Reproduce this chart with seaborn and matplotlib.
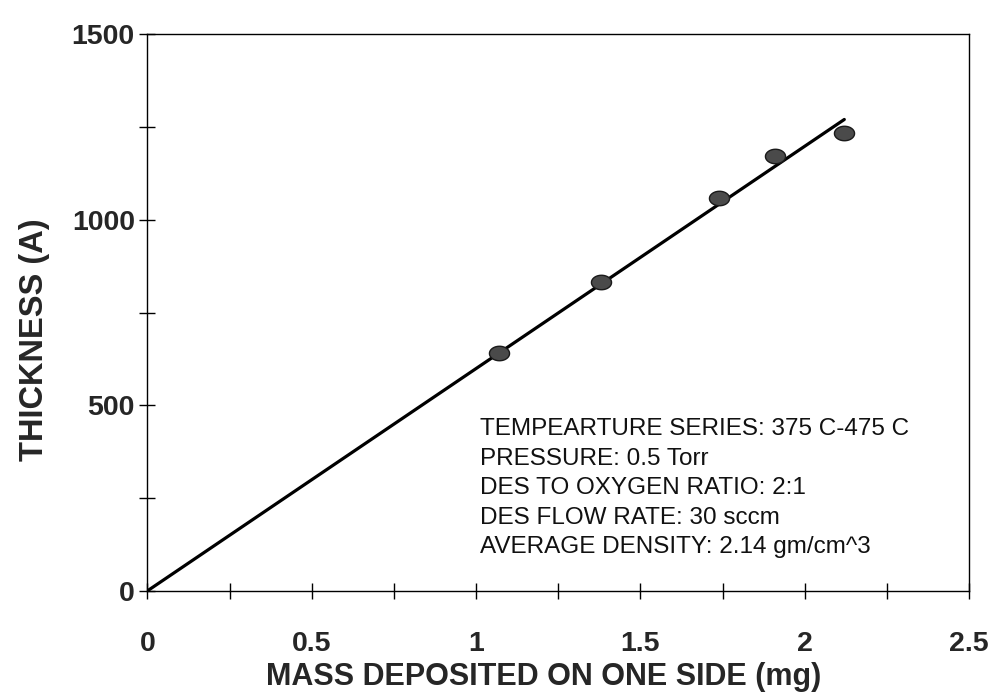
import numpy as np
import pandas as pd
import matplotlib
matplotlib.use("Agg")
import matplotlib.pyplot as plt
from matplotlib.path import Path
from matplotlib.ticker import MultipleLocator
import seaborn as sns

# measured points
mass_mg = [1.07, 1.38, 1.74, 1.91, 2.12]
thickness_a = [640, 831, 1059, 1171, 1234]

# fitted line endpoints
fit_mass = [0.0, 2.12]
fit_thickness = [0.0, 1270.0]

notes = [
    "TEMPEARTURE SERIES: 375 C-475 C",
    "PRESSURE: 0.5 Torr",
    "DES TO OXYGEN RATIO: 2:1",
    "DES FLOW RATE: 30 sccm",
    "AVERAGE DENSITY: 2.14 gm/cm^3",
]

sns.set_style("white")
plt.rcParams['font.family'] = ['Liberation Sans', 'DejaVu Sans']

fig = plt.figure(figsize=(9.89, 6.96), dpi=100)
ax = fig.add_axes([0.149, 0.151, 0.831, 0.8])

pts = pd.DataFrame({"mass": mass_mg, "thickness": thickness_a})
fit = pd.DataFrame({"mass": fit_mass, "thickness": fit_thickness})

sns.lineplot(data=fit, x="mass", y="thickness", color="black", lw=2.3, ax=ax)

# slightly flattened dot, like the scanned markers
t = np.linspace(0, 2 * np.pi, 40)
ellipse = Path(np.column_stack([np.cos(t), 0.72 * np.sin(t)]), closed=True)
sns.scatterplot(data=pts, x="mass", y="thickness", marker=ellipse, s=210,
                color="#4a4a4a", edgecolor="#1a1a1a", linewidth=1.0, ax=ax, zorder=3)

ax.set_xlim(0, 2.5)
ax.set_ylim(0, 1500)
ax.xaxis.set_major_locator(MultipleLocator(0.5))
ax.xaxis.set_minor_locator(MultipleLocator(0.25))
ax.yaxis.set_major_locator(MultipleLocator(500))
ax.yaxis.set_minor_locator(MultipleLocator(250))
ax.set_xticks([0, 0.5, 1, 1.5, 2, 2.5])
ax.set_xticklabels(["0", "0.5", "1", "1.5", "2", "2.5"])

ax.tick_params(which="both", bottom=True, left=True, top=False, right=False,
               direction="inout", length=12, width=1.0, color="black")
ax.tick_params(axis="x", which="major", pad=23)
ax.tick_params(axis="y", which="major", pad=3)
for lab in ax.get_xticklabels() + ax.get_yticklabels():
    lab.set_fontsize(20.5)
    lab.set_fontweight("bold")

for sp in ax.spines.values():
    sp.set_color("black")
    sp.set_linewidth(1.0)

ax.set_xlabel("MASS DEPOSITED ON ONE SIDE (mg)", fontsize=22, fontweight="bold")
ax.xaxis.set_label_coords(0.482, -0.127)
ax.set_ylabel("THICKNESS (A)", fontsize=23.5, fontweight="bold")
ax.yaxis.set_label_coords(-0.119, 0.451)

ax.text(1.012, 102, "\n".join(notes), fontsize=17.5, linespacing=1.44,
        va="baseline", ha="left", color="#111111")

fig.savefig("out.png", dpi=100)
